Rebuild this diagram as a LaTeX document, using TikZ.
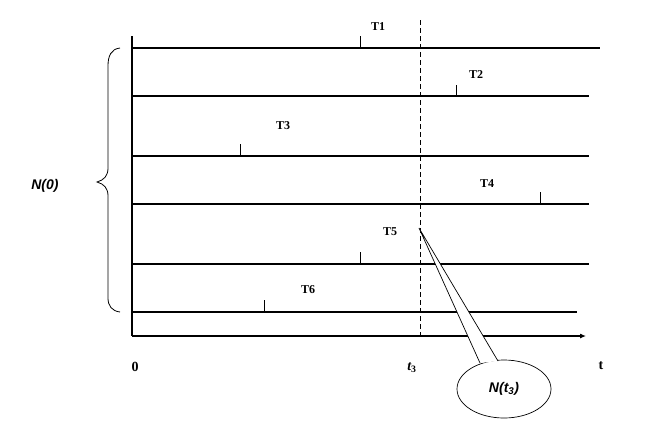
\documentclass[tikz,border=0pt]{standalone}
\usepackage{fontspec}
\setmainfont{Liberation Serif}
\newfontfamily\lsans{Liberation Sans}
\usetikzlibrary{arrows.meta,shapes.geometric}
\begin{document}
\begin{tikzpicture}[x=1pt,y=-1pt,
  tline/.style={line width=1.1pt},
  tick/.style={line width=0.9pt},
  tlab/.style={font=\bfseries\fontsize{12}{13}\selectfont, inner sep=0pt},
  nlab/.style={font=\lsans\bfseries\itshape\fontsize{14}{15}\selectfont, inner sep=0pt},
  axlab/.style={font=\bfseries\fontsize{14}{15}\selectfont, inner sep=0pt}]
\useasboundingbox (0,0) rectangle (651,432);
% axes
\coordinate (o) at (132,336);
\coordinate (ytop) at (132,36);
\coordinate (xend) at (586,336);
\draw[tline] (ytop) -- (o);
\draw[tline,-{Latex[length=6pt,width=5pt]}] (o) -- (xend);
% process lines
\foreach \n/\y/\xe/\tx/\th in {1/48/600/360/36, 2/96/589/456/85, 3/156/589/240/144, 4/204/589/540/192, 5/264/589/360/252, 6/312/577/264/300}{
  \coordinate (s\n) at (132,\y);
  \coordinate (e\n) at (\xe,\y);
  \draw[tline] (s\n) -- (e\n);
  \coordinate (tb\n) at (\tx,\y);
  \coordinate (tt\n) at (\tx,\th);
  \draw[tick] (tb\n) -- (tt\n);
}
\node[tlab] (T1) at (378,27) {T1};
\node[tlab] (T2) at (476,75) {T2};
\node[tlab] (T3) at (283,126) {T3};
\node[tlab] (T4) at (487,184) {T4};
\node[tlab] (T5) at (390,232) {T5};
\node[tlab] (T6) at (308,290) {T6};
% dashed t3 line
\coordinate (dtop) at (420,20);
\coordinate (dbot) at (420,336);
\draw[line width=0.9pt, dash pattern=on 5pt off 3pt] (dtop) -- (dbot);
% brace
\draw[line width=0.8pt] (120,48) .. controls (111,49) and (108,56) .. (108,66)
  -- (108,168) .. controls (108,176) and (104,180) .. (97,182)
  .. controls (104,184) and (108,188) .. (108,196)
  -- (108,298) .. controls (108,306) and (112,311) .. (120,312);
\node[nlab] (N0) at (45,186) {N(0)};
% axis labels
\node[axlab] (zero) at (135,367) {0};
\node[font=\bfseries\itshape\fontsize{14}{15}\selectfont, inner sep=0pt] (t3) at (412,368) {t\textsubscript{\upshape 3}};
\node[axlab] (t) at (601,366) {t};
% callout
\node[draw, ellipse, line width=0.7pt, minimum width=94pt, minimum height=58pt, inner sep=0pt, fill=white] (call) at (504,389) {};
\node[nlab] (callt) at (call.center) {N(t\textsubscript{3})};
\coordinate (tip) at (419,228);
\draw[line width=0.7pt, fill=white] (480,363) -- (tip) -- (498,361);
\end{tikzpicture}
\end{document}
